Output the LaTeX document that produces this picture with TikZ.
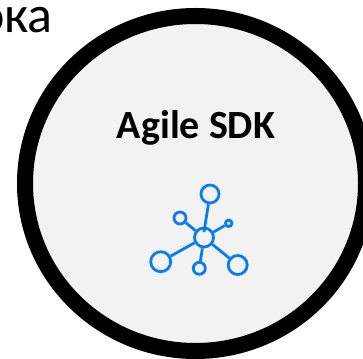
\documentclass[tikz,border=0pt]{standalone}
\usepackage{fontspec}
\setmainfont{Carlito}
\definecolor{hubblue}{HTML}{0A7CF0}
\definecolor{discgray}{HTML}{F2F2F2}
\tikzset{
  hub/.style={draw=hubblue,circle,line width=2.8pt,inner sep=0pt,fill=discgray},
  spoke/.style={draw=hubblue,line width=2.8pt}
}
\begin{document}
\begin{tikzpicture}[x=1pt,y=-1pt]
  \useasboundingbox (0,0) rectangle (363,358);
  \clip (0,0) rectangle (363,358);
  \node[anchor=base east,inner sep=0pt,font=\fontsize{52}{52}\selectfont] (caption) at (53,33) {ока};
  \draw[black,fill=discgray,line width=16pt] (195.5,183.5) ellipse (170.5 and 167.5);
  \node[anchor=base,font=\fontsize{40}{40}\selectfont\bfseries] (title) at (196,138) {Agile SDK};
  % network icon
  \coordinate (tick) at (204,232);
  \node[hub,minimum size=19pt] (center) at (204,237.5) {};
  \node[hub,minimum size=18pt] (top) at (210,194) {};
  \node[hub,minimum size=12pt] (upleft) at (180,218) {};
  \node[hub,minimum size=6.5pt] (upright) at (228.7,223.3) {};
  \node[hub,minimum size=20pt] (lowleft) at (160.7,261.7) {};
  \node[hub,minimum size=12pt] (bottom) at (199.3,268.3) {};
  \node[hub,minimum size=19pt] (lowright) at (237.7,265) {};
  \draw[spoke] (top) -- (tick);
  \draw[spoke] (center) -- (upleft);
  \draw[spoke] (center) -- (upright);
  \draw[spoke] (center) -- (lowleft);
  \draw[spoke] (center) -- (bottom);
  \draw[spoke] (center) -- (lowright);
\end{tikzpicture}
\end{document}
